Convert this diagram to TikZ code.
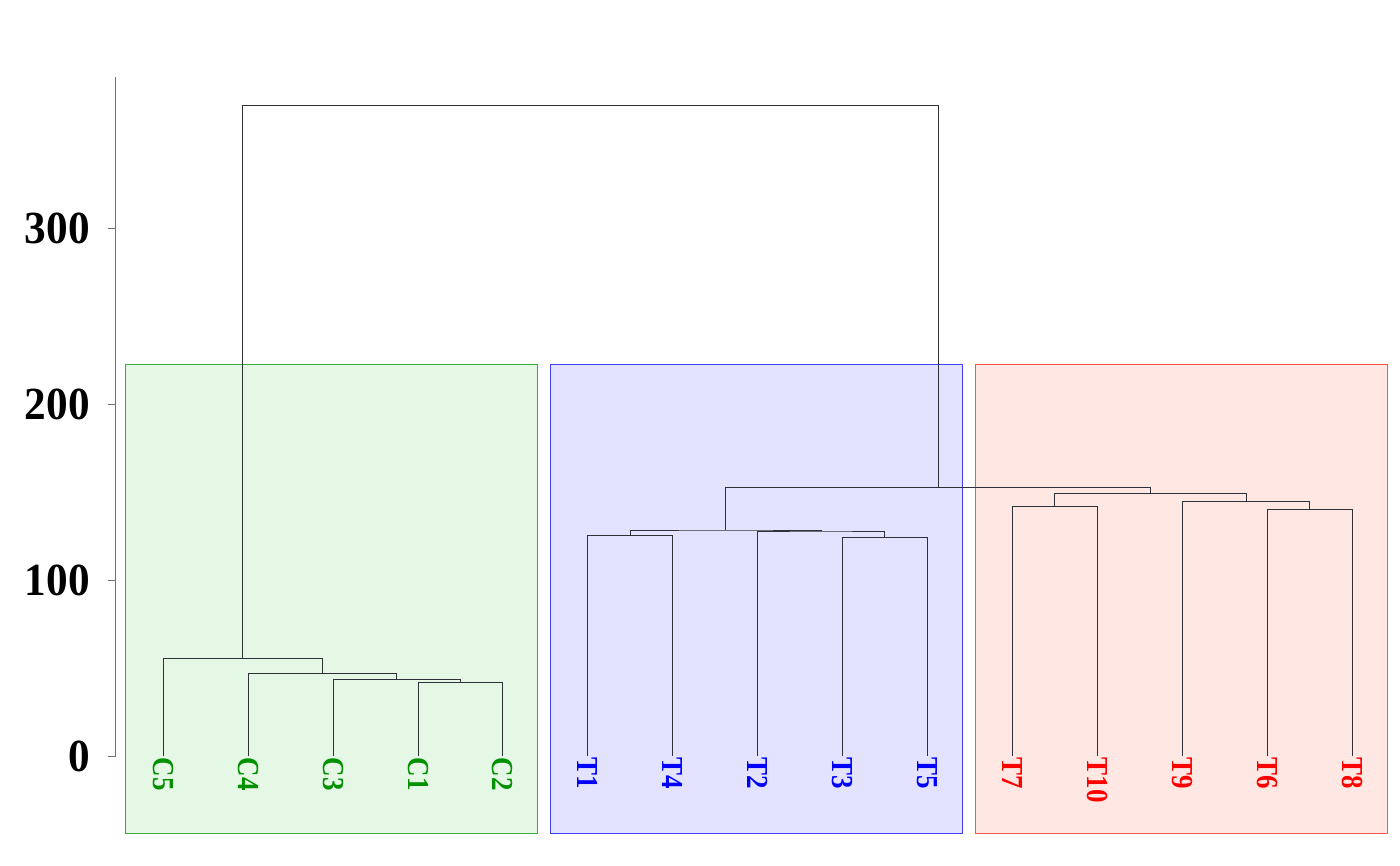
\documentclass[tikz,border=0pt]{standalone}
\usepackage{fontspec}
\setmainfont{Liberation Serif}
\definecolor{gfill}{HTML}{E5F7E5}
\definecolor{gedge}{HTML}{3AAA3A}
\definecolor{bfill}{HTML}{E3E3FF}
\definecolor{bedge}{HTML}{4040FF}
\definecolor{rfill}{HTML}{FFE8E3}
\definecolor{redge}{HTML}{FF5050}
\definecolor{glab}{HTML}{009000}
\definecolor{blab}{HTML}{0000FF}
\definecolor{rlab}{HTML}{FF0000}
\definecolor{treeline}{HTML}{303038}
\definecolor{axisgray}{HTML}{707070}
\tikzset{
  leaflab/.style={rotate=-90,anchor=west,inner sep=0pt,font=\fontsize{30.5}{30.5}\selectfont\bfseries},
  ticklab/.style={anchor=east,inner sep=0pt,font=\fontsize{46}{46}\selectfont\bfseries},
  branch/.style={draw=treeline,line width=1pt},
  grpbox/.style={line width=1pt},
}
\newcommand{\lab}[1]{\scalebox{0.885}[1]{#1}}
\newcommand{\tlab}[1]{\scalebox{0.94}[1]{#1}}
\begin{document}
\begin{tikzpicture}[x=1pt,y=-1pt]
\fill[white] (0,0) rectangle (1400,865);
\useasboundingbox (0,0) rectangle (1400,865);
% group boxes
\draw[grpbox,fill=gfill,draw=gedge] (125.5,364) rectangle (537.3,833);
\draw[grpbox,fill=bfill,draw=bedge] (550,364) rectangle (962.5,833);
\draw[grpbox,fill=rfill,draw=redge] (975,364) rectangle (1387.3,833);
% axis
\coordinate (ax0) at (115.5,756);
\coordinate (axtop) at (115.5,77);
\draw[axisgray,line width=1pt] (axtop) -- (ax0);
\foreach \v/\y in {0/756,100/580.3,200/404.3,300/228.6}{
  \coordinate (tk\v) at (107.5,\y);
  \draw[axisgray,line width=1pt] (tk\v) -- (115.5,\y);
  \node[ticklab] (tl\v) at (90,\y) {\tlab{\v}};
}
% leaves
\foreach \n/\x/\c in {C5/163/glab,C4/248/glab,C3/333/glab,C1/418/glab,C2/502.5/glab,
  T1/587.5/blab,T4/672.5/blab,T2/757.5/blab,T3/842.5/blab,T5/927/blab,
  T7/1012.3/rlab,T10/1097.3/rlab,T9/1182.3/rlab,T6/1267/rlab,T8/1352.3/rlab}{
  \coordinate (l\n) at (\x,756);
  \node[leaflab,text=\c] (n\n) at (\x,757.5) {\lab{\n}};
}
% merge points
\coordinate (m1) at (460.2,682.3);
\coordinate (m2) at (396.6,679);
\coordinate (m3) at (322.3,673.3);
\coordinate (m4) at (242.6,658.3);
\coordinate (b1) at (630,535.7);
\coordinate (b2) at (884.8,537.3);
\coordinate (b3) at (821.1,531);
\coordinate (b4) at (725.6,530);
\coordinate (r1) at (1054.8,506.3);
\coordinate (r2) at (1309.7,509.3);
\coordinate (r3) at (1246,501.3);
\coordinate (r4) at (1150.4,493.3);
\coordinate (r5) at (938,487.3);
\coordinate (top) at (590.3,105.7);
% branches
\draw[branch] (lC1) |- (m1) -| (lC2);
\draw[branch] (lC3) |- (m2) -| (m1);
\draw[branch] (lC4) |- (m3) -| (m2);
\draw[branch] (lC5) |- (m4) -| (m3);
\draw[branch] (lT1) |- (b1) -| (lT4);
\draw[branch] (lT3) |- (b2) -| (lT5);
\draw[branch] (lT2) |- (b3) -| (b2);
\draw[branch] (b1) |- (b4) -| (b3);
\draw[branch] (lT7) |- (r1) -| (lT10);
\draw[branch] (lT6) |- (r2) -| (lT8);
\draw[branch] (lT9) |- (r3) -| (r2);
\draw[branch] (r1) |- (r4) -| (r3);
\draw[branch] (b4) |- (r5) -| (r4);
\draw[branch] (m4) |- (top) -| (r5);
\end{tikzpicture}
\end{document}
